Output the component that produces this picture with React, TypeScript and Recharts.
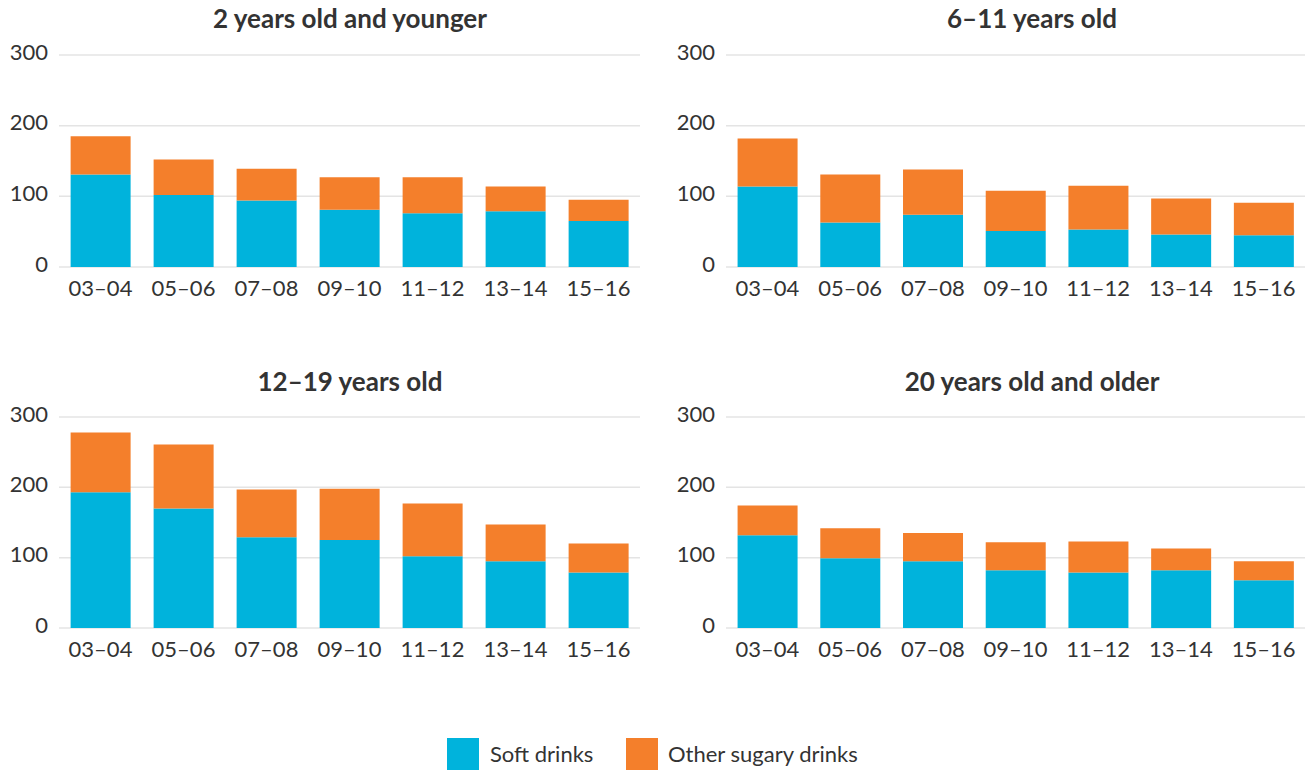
import { Bar, BarChart, CartesianGrid, XAxis, YAxis } from "recharts";

const categories = ["03–04", "05–06", "07–08", "09–10", "11–12", "13–14", "15–16"];
const yTicks = [0, 100, 200, 300];

const softYoung = [131, 102, 94, 81, 76, 79, 65];
const otherYoung = [54, 50, 45, 46, 51, 35, 30];

const softChild = [114, 63, 74, 51, 53, 46, 45];
const otherChild = [68, 68, 64, 57, 62, 51, 46];

const softTeen = [193, 170, 129, 125, 102, 95, 79];
const otherTeen = [85, 91, 68, 73, 75, 52, 41];

const softAdult = [132, 99, 95, 82, 79, 82, 68];
const otherAdult = [42, 43, 40, 40, 44, 31, 27];

const BLUE = "#00b3dc";
const ORANGE = "#f47f2b";
const TEXT = "#333333";
const FONT = "Lato, 'Open Sans', sans-serif";

function toRows(soft: number[], other: number[]) {
  return categories.map((c, i) => ({ cat: c, soft: soft[i], other: other[i] }));
}

type PanelProps = {
  title: string;
  soft: number[];
  other: number[];
  left: number;
  top: number;
  width: number;
  plotHeight: number;
  titleX: number;
  titleTop: number;
};

function Panel({ title, soft, other, left, top, width, plotHeight, titleX, titleTop }: PanelProps) {
  const data = toRows(soft, other);
  return (
    <>
      <div
        style={{
          position: "absolute",
          left: titleX,
          top: titleTop,
          transform: "translateX(-50%)",
          whiteSpace: "nowrap",
          fontFamily: FONT,
          fontWeight: 700,
          fontSize: 26,
          lineHeight: "26px",
          color: TEXT,
        }}
      >
        {title}
      </div>
      <div style={{ position: "absolute", left, top }}>
        <BarChart
          width={width}
          height={25 + plotHeight + 40}
          data={data}
          margin={{ top: 25, right: 0, bottom: 0, left: 0 }}
          barCategoryGap="14%"
        >
          <CartesianGrid
            horizontal
            vertical={false}
            stroke="#e4e4e4"
            strokeWidth={1.5}
          />
          <XAxis
            dataKey="cat"
            axisLine={false}
            tickLine={false}
            tickSize={0}
            tickMargin={13}
            height={40}
            interval={0}
            tick={{ fill: TEXT, fontSize: 22, fontFamily: FONT }}
          />
          <YAxis
            domain={[0, 300]}
            ticks={yTicks}
            axisLine={false}
            tickLine={false}
            tickSize={0}
            tickMargin={11}
            width={59}
            tick={{ fill: TEXT, fontSize: 22, fontFamily: FONT, dy: -3 }}
          />
          <Bar dataKey="soft" stackId="a" fill={BLUE} isAnimationActive={false} />
          <Bar dataKey="other" stackId="a" fill={ORANGE} isAnimationActive={false} />
        </BarChart>
      </div>
    </>
  );
}

export default function App() {
  const legendText = {
    position: "absolute" as const,
    top: 743,
    fontFamily: FONT,
    fontSize: 22,
    lineHeight: "22px",
    color: TEXT,
    whiteSpace: "nowrap" as const,
  };
  return (
    <div
      style={{
        position: "absolute",
        left: 0,
        top: 0,
        width: 1305,
        height: 771,
        background: "#fff",
        overflow: "hidden",
      }}
    >
      <Panel
        title="2 years old and younger"
        soft={softYoung}
        other={otherYoung}
        left={0}
        top={30}
        width={640}
        plotHeight={212}
        titleX={350}
        titleTop={5}
      />
      <Panel
        title="6–11 years old"
        soft={softChild}
        other={otherChild}
        left={667}
        top={30}
        width={638}
        plotHeight={212}
        titleX={1032}
        titleTop={5}
      />
      <Panel
        title="12–19 years old"
        soft={softTeen}
        other={otherTeen}
        left={0}
        top={392}
        width={640}
        plotHeight={211}
        titleX={350}
        titleTop={368}
      />
      <Panel
        title="20 years old and older"
        soft={softAdult}
        other={otherAdult}
        left={667}
        top={392}
        width={638}
        plotHeight={211}
        titleX={1032}
        titleTop={368}
      />

      <div style={{ position: "absolute", left: 447, top: 738, width: 32, height: 32, background: BLUE }} />
      <div style={{ ...legendText, left: 490 }}>Soft drinks</div>
      <div style={{ position: "absolute", left: 626, top: 738, width: 32, height: 32, background: ORANGE }} />
      <div style={{ ...legendText, left: 668 }}>Other sugary drinks</div>
    </div>
  );
}
